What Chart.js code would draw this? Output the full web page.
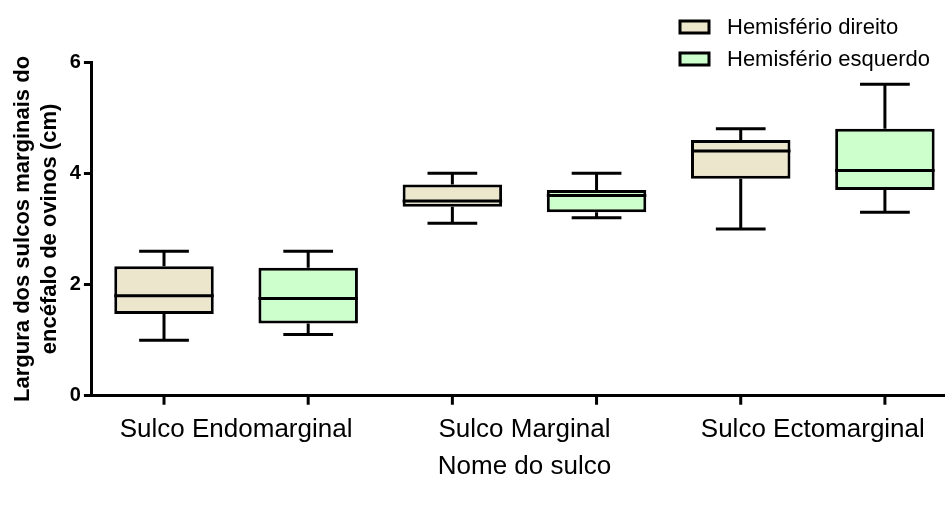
<!DOCTYPE html>
<html>
<head>
<meta charset="utf-8">
<script src="https://cdn.jsdelivr.net/npm/chart.js@4"></script>
<style>
  html, body { margin: 0; padding: 0; background: #fff; overflow: hidden; }
  #wrap { width: 957px; height: 505px; position: relative; }
</style>
</head>
<body>
<div id="wrap"><canvas id="boxChart"></canvas></div>
<script>
// data (cm)
const sulcos = ['Sulco Endomarginal', 'Sulco Marginal', 'Sulco Ectomarginal'];
const seriesNames = ['Hemisfério direito', 'Hemisfério esquerdo'];

const direitoMin = [1.0, 3.1, 3.0];
const direitoQ1 = [1.47, 3.4, 3.9];
const direitoMed = [1.8, 3.5, 4.4];
const direitoQ3 = [2.33, 3.8, 4.6];
const direitoMax = [2.6, 4.0, 4.8];

const esquerdoMin = [1.1, 3.2, 3.3];
const esquerdoQ1 = [1.3, 3.3, 3.7];
const esquerdoMed = [1.75, 3.6, 4.05];
const esquerdoQ3 = [2.3, 3.7, 4.8];
const esquerdoMax = [2.6, 4.0, 5.6];

const yTicks = [0, 2, 4, 6];

const colors = ['#ebe6cc', '#ccffcc'];
const stats = [
    { min: direitoMin, q1: direitoQ1, med: direitoMed, q3: direitoQ3, max: direitoMax },
    { min: esquerdoMin, q1: esquerdoQ1, med: esquerdoMed, q3: esquerdoQ3, max: esquerdoMax }
];

Chart.defaults.font.family = "'Liberation Sans', Arial, sans-serif";
Chart.defaults.color = '#000';

// whiskers, medians and x tick marks drawn on top of the floating bars
const boxExtras = {
    id: 'boxExtras',
    afterDatasetsDraw(chart) {
        const ctx = chart.ctx;
        const y = chart.scales.y;
        const bottom = chart.chartArea.bottom;
        ctx.save();
        ctx.strokeStyle = '#000';
        ctx.lineWidth = 3;
        stats.forEach((s, i) => {
            chart.getDatasetMeta(i).data.forEach((bar, j) => {
                const x = bar.x;
                const half = bar.width / 2;
                const cap = bar.width / 4;
                ctx.beginPath();
                // upper whisker
                ctx.moveTo(x, y.getPixelForValue(s.q3[j]));
                ctx.lineTo(x, y.getPixelForValue(s.max[j]));
                ctx.moveTo(x - cap, y.getPixelForValue(s.max[j]));
                ctx.lineTo(x + cap, y.getPixelForValue(s.max[j]));
                // lower whisker
                ctx.moveTo(x, y.getPixelForValue(s.q1[j]));
                ctx.lineTo(x, y.getPixelForValue(s.min[j]));
                ctx.moveTo(x - cap, y.getPixelForValue(s.min[j]));
                ctx.lineTo(x + cap, y.getPixelForValue(s.min[j]));
                // median
                ctx.moveTo(x - half, y.getPixelForValue(s.med[j]));
                ctx.lineTo(x + half, y.getPixelForValue(s.med[j]));
                // tick mark under the box
                ctx.moveTo(x, bottom);
                ctx.lineTo(x, bottom + 9);
                ctx.stroke();
            });
        });
        ctx.restore();
    }
};

// legend stacked in the top right corner
const stackedLegend = {
    id: 'stackedLegend',
    afterDraw(chart) {
        const ctx = chart.ctx;
        ctx.save();
        ctx.font = "22px 'Liberation Sans', Arial, sans-serif";
        ctx.textBaseline = 'middle';
        chart.data.datasets.forEach((ds, i) => {
            const cy = 27 + i * 32;
            ctx.fillStyle = ds.backgroundColor;
            ctx.fillRect(680, cy - 6, 29, 12);
            ctx.strokeStyle = '#000';
            ctx.lineWidth = 3;
            ctx.strokeRect(680, cy - 6, 29, 12);
            ctx.fillStyle = '#000';
            ctx.fillText(ds.label, 727, cy + 1);
        });
        ctx.restore();
    }
};

const ctx = document.getElementById('boxChart').getContext('2d');
const boxChart = new Chart(ctx, {
    type: 'bar',
    data: {
        labels: sulcos,
        datasets: stats.map((s, i) => ({
            label: seriesNames[i],
            data: s.q1.map((v, j) => [v, s.q3[j]]),
            backgroundColor: colors[i],
            borderColor: '#000',
            borderWidth: 3,
            borderSkipped: false,
            categoryPercentage: 1.0,
            barPercentage: 0.69
        }))
    },
    options: {
        responsive: true,
        maintainAspectRatio: false,
        animation: false,
        layout: { padding: { top: 62, left: 10, right: 0, bottom: 23 } },
        plugins: {
            legend: { display: false },
            tooltip: { enabled: false }
        },
        scales: {
            x: {
                grid: { display: false, drawTicks: false },
                border: { color: '#000', width: 3 },
                ticks: { font: { size: 26, lineHeight: 1.0 }, padding: 21 },
                title: {
                    display: true,
                    text: 'Nome do sulco',
                    font: { size: 26 },
                    padding: { top: -13, bottom: 0 }
                }
            },
            y: {
                min: 0,
                max: 6,
                afterBuildTicks(scale) {
                    scale.ticks = yTicks.map(v => ({ value: v }));
                },
                grid: { drawOnChartArea: false, drawTicks: true, tickLength: 8, color: '#000', lineWidth: 3 },
                border: { color: '#000', width: 3 },
                ticks: { font: { size: 20, weight: 'bold' }, padding: 3 },
                title: {
                    display: true,
                    text: ['Largura dos sulcos marginais do', 'encéfalo de ovinos (cm)'],
                    font: { size: 22, weight: 'bold' },
                    padding: { top: 0, bottom: 4 }
                }
            }
        }
    },
    plugins: [boxExtras, stackedLegend]
});
</script>
</body>
</html>
